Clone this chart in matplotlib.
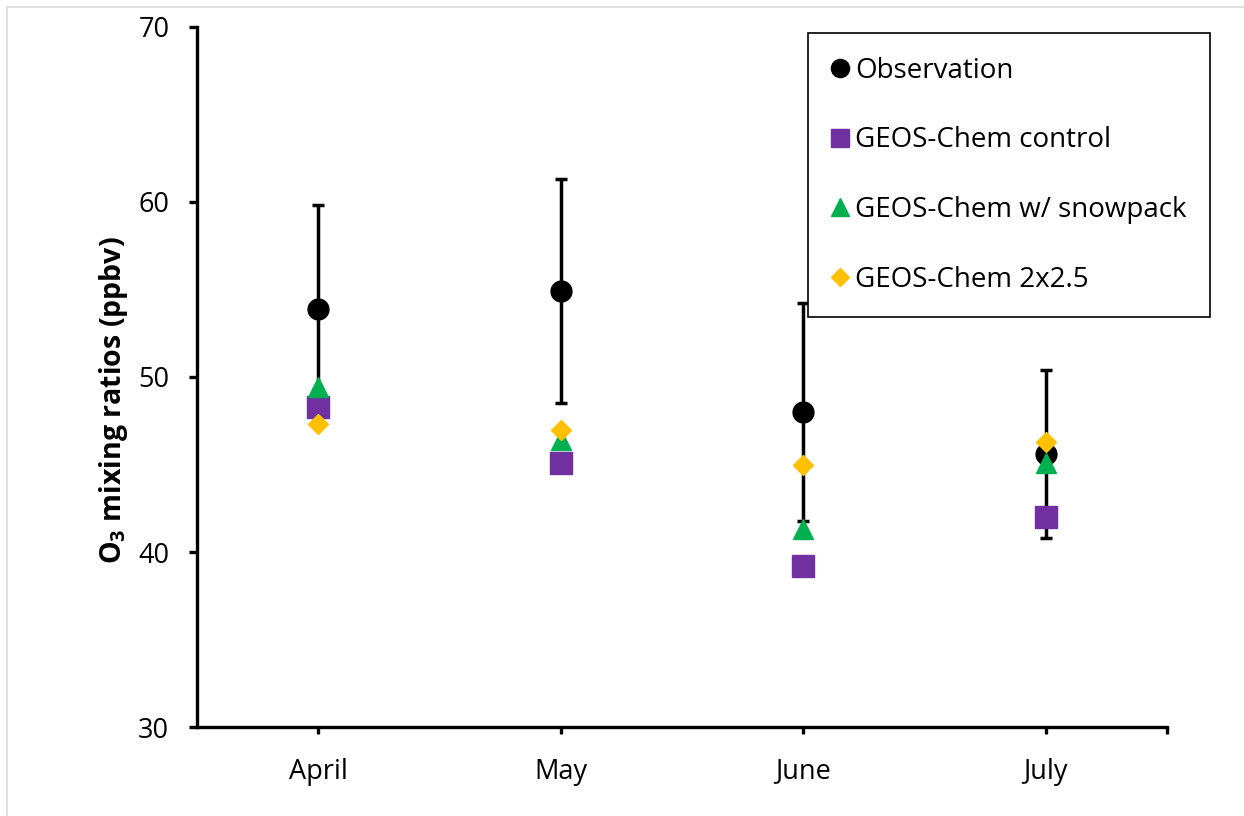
import matplotlib
matplotlib.use("Agg")
import matplotlib.pyplot as plt
from matplotlib.lines import Line2D
import numpy as np

plt.rcParams["font.family"] = ["Open Sans", "DejaVu Sans"]
plt.rcParams["mathtext.fontset"] = "custom"
plt.rcParams["mathtext.rm"] = "Open Sans"
plt.rcParams["mathtext.bf"] = "Open Sans:bold"

# Monthly mean O3 (ppbv)
months = ["April", "May", "June", "July"]
obs = [53.9, 54.9, 48.0, 45.6]
obs_err = [5.9, 6.4, 6.2, 4.8]
gc_control = [48.3, 45.1, 39.2, 42.0]
gc_snowpack = [49.4, 46.4, 41.3, 45.1]
gc_2x25 = [47.3, 47.0, 45.0, 46.3]

x = np.arange(len(months)) + 0.5

fig = plt.figure(figsize=(12.44, 8.16), dpi=100)
ax = fig.add_axes([0.1584, 0.109, 0.7797, 0.858])

eb = ax.errorbar(x, obs, yerr=obs_err, fmt="o", color="black", markersize=15,
                 elinewidth=2.5, capsize=4.3, capthick=2.5, zorder=3)
h_obs = eb.lines[0]
h_obs.set_label("Observation")
h_ctl, = ax.plot(x, gc_control, "s", color="#7030A0", markersize=15.5,
                 label="GEOS-Chem control", zorder=4)
h_snow, = ax.plot(x, gc_snowpack, "^", color="#00B050", markersize=15,
                  label="GEOS-Chem w/ snowpack", zorder=5)
h_2x, = ax.plot(x, gc_2x25, "D", color="#FFC000", markersize=10.6,
                label="GEOS-Chem 2x2.5", zorder=6)

ax.set_xlim(0, 4)
ax.set_ylim(30, 70)
ax.set_yticks([30, 40, 50, 60, 70])
ax.set_xticks(list(x) + [4])
ax.set_xticklabels(months + [""])

for side in ["top", "right"]:
    ax.spines[side].set_visible(False)
for side in ["left", "bottom"]:
    ax.spines[side].set_linewidth(2.4)
ax.tick_params(axis="y", length=6, width=2.4, labelsize=19.5, pad=14)
ax.tick_params(axis="x", length=5, width=2.4, labelsize=19.5, pad=17)

ax.set_ylabel(r"$\mathbf{O_3}$ mixing ratios (ppbv)", fontsize=20.5, fontweight="bold")
ax.yaxis.set_label_coords(-0.069, 0.467)

leg = ax.legend(handles=[h_obs, h_ctl, h_snow, h_2x],
                loc="upper right", bbox_to_anchor=(0.9727, 0.9596),
                bbox_transform=fig.transFigure, borderaxespad=0,
                fontsize=20, markerscale=0.87, frameon=True, fancybox=False,
                edgecolor="black", framealpha=1, borderpad=0.85,
                handlelength=0.65, handletextpad=0.2, labelspacing=1.5)
leg.get_frame().set_linewidth(1.2)

# light frame around the figure (left and top edges)
fig.add_artist(Line2D([0.0054, 0.0054], [0, 0.9918], transform=fig.transFigure,
                      color="#d9d9d9", lw=1.2))
fig.add_artist(Line2D([0.0054, 1], [0.9918, 0.9918], transform=fig.transFigure,
                      color="#d9d9d9", lw=1.2))

fig.savefig("out.png", dpi=100)
